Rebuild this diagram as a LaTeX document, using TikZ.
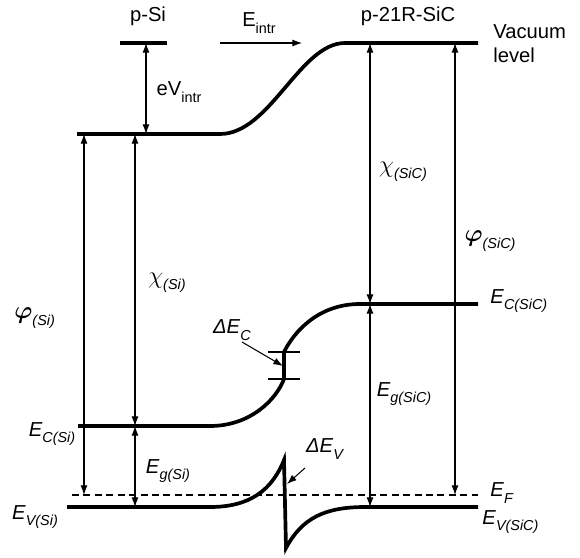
\documentclass[tikz,border=0pt]{standalone}
\usepackage{fontspec}
\usepackage{bm}
\setmainfont{Liberation Sans}
\usetikzlibrary{arrows.meta}
\newcommand\subsz{\fontsize{8.2}{9}\selectfont}
\newcommand\lbl[2]{\textit{#1}\raisebox{-0.6ex}{\subsz\textit{#2}}}
\newcommand\ulbl[2]{#1\raisebox{-0.6ex}{\subsz #2}}
\begin{document}
\begin{tikzpicture}[x=0.02cm,y=-0.02cm,
  band/.style={line width=2.1pt,line cap=butt},
  thin/.style={line width=0.6pt},
  dim/.style={line width=0.6pt,{Latex[length=5.5pt,width=4pt]}-{Latex[length=5.5pt,width=4pt]}},
  single/.style={line width=0.6pt,-{Latex[length=5.5pt,width=4pt]}},
  txt/.style={inner sep=0pt,font=\fontsize{11.5}{13.5}\selectfont}]
\useasboundingbox (0,0) rectangle (580,557);
% coordinates
\coordinate (bar1) at (120,43); \coordinate (bar2) at (167,43);
\coordinate (vacL) at (77,134); \coordinate (vacA) at (220,134);
\coordinate (vacB) at (345,43); \coordinate (vacR) at (478,43);
\coordinate (ecL) at (78,426); \coordinate (ecA) at (210,426);
\coordinate (ecS1) at (284,379); \coordinate (ecS2) at (284,352);
\coordinate (ecB) at (360,304); \coordinate (ecR) at (478,304);
\coordinate (evL) at (67,507); \coordinate (evA) at (210,507);
\coordinate (evP) at (284,460); \coordinate (evD) at (286,548);
\coordinate (evB) at (365,507); \coordinate (evR) at (478,507);
\coordinate (efL) at (72,495); \coordinate (efR) at (478,495);
% bands
\draw[band] (bar1) -- (bar2);
\draw[band] (vacL) -- (vacA) .. controls (270,134) and (300,43) .. (vacB) -- (vacR);
\draw[band] (ecL) -- (ecA) .. controls (250,426) and (276,400) .. (ecS1) -- (ecS2)
  .. controls (294,332) and (318,304) .. (ecB) -- (ecR);
\draw[band,line join=miter] (evL) -- (evA) .. controls (250,507) and (272,490) .. (evP) -- (evD)
  .. controls (302,518) and (325,507) .. (evB) -- (evR);
\draw[thin,dash pattern=on 4pt off 2.5pt] (efL) -- (efR);
% Delta E_C ticks
\coordinate (t1a) at (268,352); \coordinate (t1b) at (300,352);
\coordinate (t2a) at (268,379); \coordinate (t2b) at (300,379);
\draw[thin] (t1a) -- (t1b);
\draw[thin] (t2a) -- (t2b);
% dimension arrows
\coordinate (eva) at (146,43); \coordinate (evb) at (146,134);
\draw[dim] (eva) -- (evb);
\coordinate (phia) at (84,134); \coordinate (phib) at (84,495);
\draw[dim] (phia) -- (phib);
\coordinate (chia) at (135,134); \coordinate (chib) at (135,426);
\draw[dim] (chia) -- (chib);
\coordinate (egsa) at (135,426); \coordinate (egsb) at (135,507);
\draw[dim] (egsa) -- (egsb);
\coordinate (chica) at (370,43); \coordinate (chicb) at (370,304);
\draw[dim] (chica) -- (chicb);
\coordinate (egca) at (370,304); \coordinate (egcb) at (370,507);
\draw[dim] (egca) -- (egcb);
\coordinate (phica) at (455,43); \coordinate (phicb) at (455,495);
\draw[dim] (phica) -- (phicb);
% Field arrow
\coordinate (fa) at (220,43); \coordinate (fb) at (302,43);
\draw[single] (fa) -- (fb);
% Delta arrows
\coordinate (dca) at (242,342); \coordinate (dcb) at (283,366);
\draw[single] (dca) -- (dcb);
\coordinate (dva) at (305,468); \coordinate (dvb) at (287,484);
\draw[single] (dva) -- (dvb);
% labels
\node[txt] (lpsi) at (148,16) {p-Si};
\node[txt] (lsic) at (408,16) {p-21R-SiC};
\node[txt,anchor=west,align=left] (lvac) at (493,44) {Vacuum\\level};
\node[txt] (leint) at (259,23) {\ulbl{E}{intr}};
\node[txt] (levint) at (179,92) {\ulbl{eV}{intr}};
\node[txt,anchor=west] (lphis) at (14,318) {\scalebox{1.15}{$\bm{\varphi}$}\raisebox{-0.6ex}{\subsz\textit{(Si)}}};
\node[txt] (lchis) at (167,283) {\scalebox{1.15}{$\chi$}\raisebox{-0.6ex}{\subsz\textit{(Si)}}};
\node[txt] (ldec) at (232,330) {\lbl{ΔE}{C}};
\node[txt] (lecs) at (52,434) {\lbl{E}{C(Si)}};
\node[txt] (legs) at (168,471) {\lbl{E}{g(Si)}};
\node[txt] (levs) at (35,517) {\lbl{E}{V(Si)}};
\node[txt] (ldev) at (325,449) {\lbl{ΔE}{V}};
\node[txt,anchor=west] (lef) at (490,493) {\lbl{E}{F}};
\node[txt,anchor=west] (levc) at (482,522) {\lbl{E}{V(SiC)}};
\node[txt] (legc) at (404,394) {\lbl{E}{g(SiC)}};
\node[txt,anchor=west] (lecc) at (490,301) {\lbl{E}{C(SiC)}};
\node[txt] (lchic) at (403,172) {\scalebox{1.15}{$\chi$}\raisebox{-0.6ex}{\subsz\textit{(SiC)}}};
\node[txt] (lphic) at (490,241) {\scalebox{1.15}{$\bm{\varphi}$}\raisebox{-0.6ex}{\subsz\textit{(SiC)}}};
\end{tikzpicture}
\end{document}
